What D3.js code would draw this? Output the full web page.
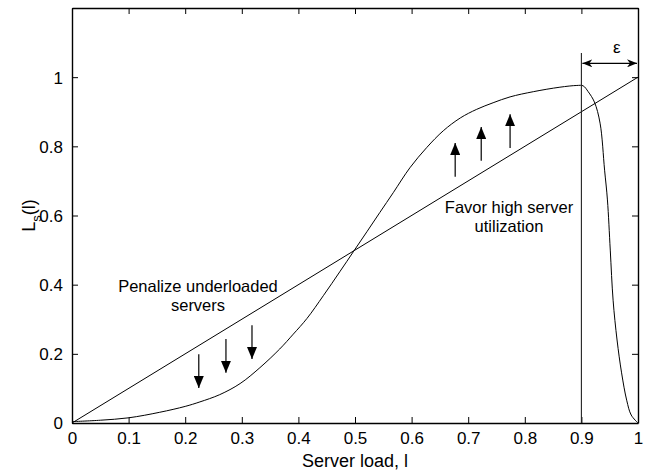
<!DOCTYPE html>
<html><head><meta charset="utf-8">
<script src="https://cdn.jsdelivr.net/npm/d3@7"></script>
<style>body{margin:0;background:#fff}svg{display:block}text{font-family:"Liberation Sans",Arial,sans-serif;}</style>
</head><body><svg id="c" width="650" height="473"></svg>
<script>
// Data
const xTicks = [0,0.1,0.2,0.3,0.4,0.5,0.6,0.7,0.8,0.9,1];
const xTickLabels = ["0","0.1","0.2","0.3","0.4","0.5","0.6","0.7","0.8","0.9","1"];
const yTicks = [0,0.2,0.4,0.6,0.8,1];
const yTickLabels = ["0","0.2","0.4","0.6","0.8","1"];
const curveX = [0,0.05,0.1,0.155,0.2,0.226,0.261,0.297,0.332,0.367,0.391,0.415,0.444,0.473,0.497,0.521,0.544,0.568,0.597,0.627,0.656,0.686,0.715,0.744,0.774,0.815,0.862,0.892,0.903,0.912,0.923,0.933,0.941,0.946,0.951,0.956,0.963,0.971,0.98,0.988,1.0];
const curveY = [0.004,0.008,0.015,0.031,0.048,0.061,0.082,0.114,0.16,0.214,0.257,0.302,0.368,0.437,0.495,0.553,0.609,0.667,0.738,0.797,0.845,0.882,0.907,0.926,0.943,0.958,0.971,0.976,0.975,0.958,0.928,0.867,0.731,0.645,0.5,0.355,0.24,0.145,0.066,0.023,0];
const diagX = [0,1];
const diagY = [0,1];
const downArrowX = [0.224,0.272,0.318];
const downArrowTop = [0.199,0.243,0.283];
const downArrowTip = [0.101,0.145,0.185];
const upArrowX = [0.677,0.723,0.774];
const upArrowBottom = [0.712,0.758,0.795];
const upArrowTip = [0.81,0.856,0.893];
const epsilonLineX = 0.9;
const epsilonLineTop = 1.07;
const epsilonArrowY = 1.04;

const svg = d3.select("#c");
const W=650,H=473, m={l:72,r:12,t:8,b:50};
const x = d3.scaleLinear().domain([0,1]).range([m.l, W-m.r]);
const y = d3.scaleLinear().domain([0,1.2]).range([H-m.b, m.t]);

const defs = svg.append("defs");
defs.append("marker").attr("id","ah").attr("viewBox","0 0 12 10").attr("refX",12).attr("refY",5)
  .attr("markerWidth",12).attr("markerHeight",10).attr("markerUnits","userSpaceOnUse").attr("orient","auto")
  .append("path").attr("d","M0,0 L12,5 L0,10 Z").attr("fill","#000");
defs.append("marker").attr("id","ah2").attr("viewBox","0 0 10 8").attr("refX",10).attr("refY",4)
  .attr("markerWidth",10).attr("markerHeight",8).attr("markerUnits","userSpaceOnUse").attr("orient","auto-start-reverse")
  .append("path").attr("d","M0,0 L10,4 L0,8 L3,4 Z").attr("fill","#000");

const tl=6;
const gB = svg.append("g").attr("transform",`translate(0,${y(0)})`)
  .call(d3.axisBottom(x).tickValues(xTicks).tickFormat((d,i)=>xTickLabels[i]).tickSizeInner(-tl).tickSizeOuter(0).tickPadding(9));
const gT = svg.append("g").attr("transform",`translate(0,${y(1.2)})`)
  .call(d3.axisTop(x).tickValues(xTicks).tickFormat("").tickSizeInner(-tl).tickSizeOuter(0));
const gL = svg.append("g").attr("transform",`translate(${x(0)},0)`)
  .call(d3.axisLeft(y).tickValues(yTicks).tickFormat((d,i)=>yTickLabels[i]).tickSizeInner(-tl).tickSizeOuter(0).tickPadding(9));
const gR = svg.append("g").attr("transform",`translate(${x(1)},0)`)
  .call(d3.axisRight(y).tickValues(yTicks).tickFormat("").tickSizeInner(-tl).tickSizeOuter(0));
[gB,gT,gL,gR].forEach(g=>{
  g.selectAll(".domain").attr("stroke","#000").attr("stroke-width",1.4);
  g.selectAll(".tick line").attr("stroke","#000").attr("stroke-width",1);
  g.selectAll("text").attr("font-size",17).attr("fill","#000").attr("font-family","Liberation Sans, Arial, sans-serif");
});
gL.selectAll("text").attr("dy","0.35em");

svg.append("text").attr("x",(x(0)+x(1))/2).attr("y",467).attr("text-anchor","middle").attr("font-size",18).text("Server load, l");
const yt = svg.append("text").attr("transform",`translate(35,${y(0.6)}) rotate(-90)`).attr("text-anchor","middle").attr("font-size",18);
yt.append("tspan").text("L");
yt.append("tspan").attr("font-size",13).attr("dy",6).text("s");
yt.append("tspan").attr("dy",-6).text("(l)");

const line = d3.line().x(d=>x(d[0])).y(d=>y(d[1]));
svg.append("path").datum(diagX.map((v,i)=>[v,diagY[i]])).attr("d",line).attr("fill","none").attr("stroke","#000").attr("stroke-width",1);
const cline = d3.line().x(d=>x(d[0])).y(d=>y(d[1])).curve(d3.curveCatmullRom.alpha(0.5));
svg.append("path").datum(curveX.map((v,i)=>[v,curveY[i]])).attr("d",cline).attr("fill","none").attr("stroke","#000").attr("stroke-width",1);

svg.append("line").attr("x1",x(epsilonLineX)).attr("x2",x(epsilonLineX)).attr("y1",y(0)).attr("y2",y(epsilonLineTop)).attr("stroke","#222").attr("stroke-width",1.1);
svg.append("line").attr("x1",x(epsilonLineX)+1).attr("x2",x(1)-1).attr("y1",y(epsilonArrowY)).attr("y2",y(epsilonArrowY))
  .attr("stroke","#000").attr("stroke-width",1.1).attr("marker-end","url(#ah2)").attr("marker-start","url(#ah2)");
svg.append("text").attr("x",(x(epsilonLineX)+x(1))/2+7).attr("y",y(epsilonArrowY)-10).attr("text-anchor","middle")
  .attr("font-family","Liberation Serif, serif").attr("font-size",17).text("ε");

downArrowX.forEach((v,i)=>{
  svg.append("line").attr("x1",x(v)).attr("x2",x(v)).attr("y1",y(downArrowTop[i])).attr("y2",y(downArrowTip[i]))
    .attr("stroke","#000").attr("stroke-width",1.2).attr("marker-end","url(#ah)");
});
upArrowX.forEach((v,i)=>{
  svg.append("line").attr("x1",x(v)).attr("x2",x(v)).attr("y1",y(upArrowBottom[i])).attr("y2",y(upArrowTip[i]))
    .attr("stroke","#000").attr("stroke-width",1.2).attr("marker-end","url(#ah)");
});

const t1 = svg.append("text").attr("text-anchor","middle").attr("font-size",16.5);
t1.append("tspan").attr("x",198).attr("y",292).text("Penalize underloaded");
t1.append("tspan").attr("x",198).attr("y",311).text("servers");
const t2 = svg.append("text").attr("text-anchor","middle").attr("font-size",16.5);
t2.append("tspan").attr("x",509).attr("y",213).text("Favor high server");
t2.append("tspan").attr("x",509).attr("y",232).text("utilization");
</script></body></html>
